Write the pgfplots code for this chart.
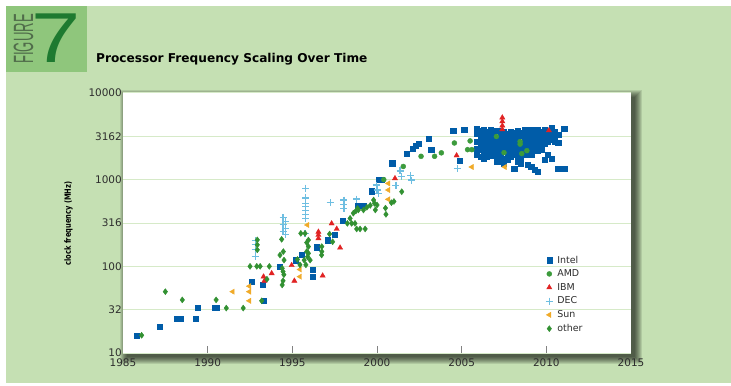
\documentclass[border=0pt]{standalone}
\usepackage{graphicx}
\usepackage{pgfplots}
\pgfplotsset{compat=1.18}
\usepackage{fontspec}
\setmainfont{DejaVu Sans}
\newfontfamily\condfont[FakeStretch=0.78]{DejaVu Sans}
\newfontfamily\arialfont{Liberation Sans}
\definecolor{bggreen}{RGB}{197,224,179}
\definecolor{boxgreen}{RGB}{143,198,124}
\definecolor{sevengreen}{RGB}{30,122,48}
\definecolor{figtext}{RGB}{80,108,74}
\definecolor{gridgreen}{RGB}{214,234,200}
\definecolor{tickgray}{RGB}{130,130,130}
\definecolor{labelgray}{RGB}{45,45,45}
\definecolor{intelblue}{RGB}{0,92,168}
\definecolor{amdgreen}{RGB}{60,155,60}
\definecolor{ibmred}{RGB}{225,35,35}
\definecolor{decblue}{RGB}{110,190,225}
\definecolor{sunorange}{RGB}{240,170,40}
\definecolor{othergreen}{RGB}{50,145,50}
\begin{document}
\begin{tikzpicture}[x=1bp,y=1bp]
\useasboundingbox (0,0) rectangle (731,385);
\fill[white] (0,0) rectangle (731,385);
\fill[bggreen] (6,2) rectangle (731,379);
\fill[boxgreen] (6,313) rectangle (87,379);
\node[inner sep=0, text=sevengreen, font=\arialfont\fontsize{71}{71}\selectfont] at (56.5,346.5) {\scalebox{1.25}[1]{7}};
\node[inner sep=0, rotate=90, text=figtext, font=\arialfont\fontsize{28}{28}\selectfont] at (23.5,346) {\scalebox{0.47}[1]{FIGURE}};
\node[anchor=base west, inner sep=0, text=black, font=\bfseries\fontsize{12.2}{14}\selectfont] at (96,323) {Processor Frequency Scaling Over Time};
\node[rotate=90, inner sep=0, text=black, font=\condfont\bfseries\fontsize{8.6}{10}\selectfont] at (68.5,161.5) {clock frequency (MHz)};
\foreach \e in {0,...,7} {
  \fill[black, opacity=0.1] ({127-\e},{28-\e}) rectangle ({635+\e},{288+\e});
}
\begin{axis}[
  at={(123bp,32bp)}, anchor=south west, scale only axis,
  width=508bp, height=260bp,
  xmin=1985, xmax=2015, ymin=10, ymax=10000, ymode=log,
  axis background/.style={fill=white},
  axis line style={draw=none},
  xtick={1990,1995,2000,2005,2010},
  xticklabels={1990,1995,2000,2005,2010},
  extra x ticks={1985,2015}, extra x tick labels={1985,2015},
  extra x tick style={major tick length=0pt},
  xtick pos=bottom, tick align=inside, major tick length=7bp,
  x tick style={color=tickgray, line width=0.9bp},
  ytick={10,31.6228,100,316.228,1000,3162.28,10000},
  yticklabels={10,32,100,316,1000,3162,10000},
  y tick style={draw=none}, minor y tick num=0,
  ymajorgrids, grid style={color=gridgreen, line width=1bp},
  tick label style={font=\fontsize{10.5}{12}\selectfont, text=labelgray},
  yticklabel style={inner sep=1bp},
  xticklabel style={yshift=-2.5bp},
  legend style={at={(0.826,0.388)}, anchor=north west, draw=none, fill=none,
    font=\fontsize{9.5}{11}\selectfont, text=labelgray, row sep=2.2bp, column sep=3bp, nodes={inner sep=1.5bp}},
  legend cell align=left,
  legend image code/.code={\draw[mark repeat=2,mark phase=2] plot coordinates {(0bp,0bp)(5bp,0bp)(10bp,0bp)};},
]
% Intel
\addplot[only marks, mark=square*, mark size=2.6bp, color=intelblue] coordinates {
(1985.8,16) (1987.15,20) (1988.2,25) (1988.4,25) (1989.3,25) (1989.4,33) (1990.4,33) (1990.55,33)
(1992.6,66) (1993.25,62) (1993.3,40) (1994.25,100) (1995.2,118) (1995.55,135) (1996.22,91) (1996.22,76)
(1996.45,166) (1997.07,200) (1997.52,232) (1997.97,335) (1998.85,505) (1999.05,505) (1999.2,505)
(1999.7,735) (2000.1,1000) (2000.25,1000) (2000.9,1550) (2001.75,2000) (2002.1,2300) (2002.3,2450)
(2002.45,2600) (2003.05,3000) (2003.2,2200) (2004.5,3650) (2004.9,1650) (2005.15,3800)
(2005.9,3900) (2005.9,3400) (2005.9,2750) (2005.9,2300) (2005.9,2100) (2005.9,1930)
(2006.1,3700) (2006.1,3300) (2006.1,3000) (2006.1,2600) (2006.1,2200) (2006.1,1850)
(2006.3,3800) (2006.3,3450) (2006.3,3100) (2006.3,2750) (2006.3,2450) (2006.3,2150) (2006.3,1930) (2006.3,1760)
(2006.5,3600) (2006.5,3250) (2006.5,2900) (2006.5,2600) (2006.5,2300) (2006.5,2050) (2006.5,1850)
(2006.7,3750) (2006.7,3300) (2006.7,2950) (2006.7,2650) (2006.7,2350) (2006.7,2100) (2006.7,1900)
(2006.9,3500) (2006.9,3150) (2006.9,2850) (2006.9,2500) (2006.9,2250) (2006.9,2000)
(2007.1,3700) (2007.1,2850) (2007.1,2550) (2007.1,2300) (2007.1,2000) (2007.1,1800) (2007.1,1610)
(2007.3,3450) (2007.3,3100) (2007.3,2750) (2007.3,2450) (2007.3,2200) (2007.3,1930) (2007.3,1700)
(2007.5,3600) (2007.5,3250) (2007.5,2900) (2007.5,2600) (2007.5,2300) (2007.5,1760) (2007.5,1550)
(2007.7,3400) (2007.7,3100) (2007.7,2750) (2007.7,2450) (2007.7,2150) (2007.7,1930) (2007.7,1700)
(2007.9,3600) (2007.9,3250) (2007.9,2900) (2007.9,2600) (2007.9,2300) (2007.9,2050) (2007.9,1850)
(2008.1,3450) (2008.1,3100) (2008.1,2800) (2008.1,2500) (2008.1,2200) (2008.1,1930) (2008.1,1350)
(2008.3,3700) (2008.3,3300) (2008.3,2950) (2008.3,2650) (2008.3,2350) (2008.3,2100) (2008.3,1850) (2008.3,1610)
(2008.5,3500) (2008.5,3200) (2008.5,2400) (2008.5,2150) (2008.5,1760) (2008.5,1550)
(2008.7,3800) (2008.7,3400) (2008.7,3050) (2008.7,2750) (2008.7,2450) (2008.7,2200) (2008.7,1930)
(2008.9,3600) (2008.9,3250) (2008.9,2900) (2008.9,2600) (2008.9,2300) (2008.9,2050) (2008.9,1480)
(2009.1,3800) (2009.1,3450) (2009.1,3100) (2009.1,2800) (2009.1,2500) (2009.1,2200) (2009.1,1930) (2009.1,1400)
(2009.3,3600) (2009.3,3250) (2009.3,2900) (2009.3,2600) (2009.3,2300) (2009.3,1300)
(2009.5,3800) (2009.5,3450) (2009.5,3100) (2009.5,2750) (2009.5,2450) (2009.5,2150) (2009.5,1240)
(2009.7,3600) (2009.7,3250) (2009.7,2900) (2009.7,2550) (2009.7,2250)
(2009.9,3750) (2009.9,3350) (2009.9,2950) (2009.9,2600) (2009.9,1700)
(2010.1,3500) (2010.1,3100) (2010.1,2750) (2010.1,1930)
(2010.3,4000) (2010.3,3350) (2010.3,2900) (2010.3,1760)
(2010.5,3600) (2010.5,3200) (2010.5,2750)
(2010.7,3300) (2010.7,2650) (2010.7,1330)
(2010.9,1330) (2011.05,3900) (2011.05,1330)
};
\addlegendentry{Intel}
% AMD
\addplot[only marks, mark=*, mark size=2.5bp, color=amdgreen] coordinates {
(2000.4,1000) (2001.55,1420) (2002.6,1860) (2003.4,1860) (2003.8,2040) (2004.57,2650)
(2005.5,2800) (2005.35,2220) (2005.6,2220) (2007.05,3150) (2007.5,2050) (2008.45,2750)
(2008.45,2570) (2008.55,2000) (2008.85,2160)
};
\addlegendentry{AMD}
% IBM
\addplot[only marks, mark=triangle*, mark size=3bp, color=ibmred] coordinates {
(1993.3,76) (1993.35,68) (1993.78,83) (1994.96,103) (1995.12,68) (1996.54,250) (1996.54,230)
(1996.54,210) (1996.79,78) (1997.32,312) (1997.62,270) (1997.82,164) (2001.06,1035)
(2004.7,1900) (2007.4,5200) (2007.4,4700) (2007.4,4200) (2007.4,3800) (2010.15,3700)
};
\addlegendentry{IBM}
% DEC
\addplot[only marks, mark=+, mark size=3.5bp, color=decblue, mark options={line width=1.1bp}] coordinates {
(1992.8,197) (1992.8,178) (1992.8,155) (1992.8,130)
(1994.45,363) (1994.6,330) (1994.45,303) (1994.6,276) (1994.45,253) (1994.6,232)
(1995.8,800) (1995.8,615) (1995.8,537) (1995.8,490) (1995.8,443) (1995.8,397) (1995.8,353) (1995.75,242)
(1997.23,543) (1998.05,582) (1998.05,519) (1998.05,466) (1998.8,598)
(1999.95,867) (2000.0,760) (2000.08,695) (2001.12,866) (2001.36,1260) (2001.46,1075)
(2001.99,1120) (2002.05,990) (2004.75,1330)
};
\addlegendentry{DEC}
% Sun
\addplot[only marks, mark=triangle*, mark size=3bp, color=sunorange, mark options={rotate=90}] coordinates {
(1991.48,51) (1992.46,59) (1992.46,51) (1992.46,40) (1995.45,92) (1995.45,76) (1995.89,300)
(2000.67,905) (2000.67,760) (2000.67,593) (2005.6,1400) (2007.55,1400)
};
\addlegendentry{Sun}
% other
\addplot[only marks, mark=diamond*, mark size=3bp, color=othergreen] coordinates {
(1986.1,16) (1987.5,51) (1988.5,41) (1990.5,41) (1991.1,33) (1992.1,33)
(1992.5,100) (1992.9,100) (1993.1,100) (1993.64,100)
(1992.93,202) (1992.93,177) (1992.93,155) (1993.19,40) (1993.5,71)
(1994.37,205) (1994.27,135) (1994.47,148) (1994.51,118) (1994.4,95) (1994.45,87) (1994.5,80) (1994.45,68) (1994.4,61)
(1995.3,120) (1995.45,104) (1995.5,240) (1995.75,240) (1995.85,188) (1995.95,201) (1995.95,169)
(1995.85,148) (1995.95,141) (1995.9,129) (1995.7,118) (1996.05,118) (1995.8,104)
(1996.73,135) (1996.74,169) (1996.74,148) (1997.2,236) (1997.38,192)
(1998.41,358) (1998.25,313) (1998.5,313) (1998.7,313) (1998.8,270) (1999.0,270) (1999.3,270)
(1998.6,410) (1998.75,435) (1998.9,447) (1998.85,465) (1999.2,447) (1999.4,480) (1999.6,505)
(1999.8,582) (1999.85,533) (2000.0,510) (1999.9,447) (2000.53,398) (2000.85,543) (2001.0,560)
(2001.46,726) (2000.5,470)
};
\addlegendentry{other}
\end{axis}
\end{tikzpicture}
\end{document}
